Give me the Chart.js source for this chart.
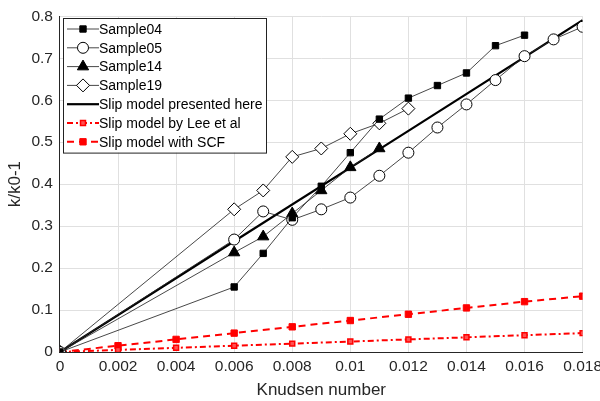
<!DOCTYPE html>
<html lang="en">
<head>
    <meta charset="UTF-8">
    <title>k/k0-1 vs Knudsen number</title>
    <script src="https://cdn.jsdelivr.net/npm/chart.js"></script>
    <style>
        html, body { margin: 0; padding: 0; background: #fff; overflow: hidden; }
        #wrap { width: 600px; height: 401px; overflow: hidden; }
    </style>
</head>
<body>
    <!-- canvas a bit wider than the window so the last x label is cut like in the original -->
    <div id="wrap"><canvas id="knChart" width="607" height="401"></canvas></div>

    <script>
        // Data
        const kn = [0, 0.006, 0.007, 0.008, 0.009, 0.010, 0.011, 0.012, 0.013, 0.014, 0.015, 0.016, 0.017, 0.018];
        const sample04 = [0, 0.155, 0.235, 0.32, 0.395, 0.475, 0.555, 0.605, 0.635, 0.665, 0.73, 0.755];
        const sample05 = [0, 0.268, 0.335, 0.315, 0.34, 0.368, 0.42, 0.475, 0.535, 0.59, 0.648, 0.705, 0.745, 0.775];
        const sample14 = [0, 0.237, 0.275, 0.33, 0.385, 0.44, 0.485];
        const sample19 = [0, 0.34, 0.385, 0.465, 0.485, 0.52, 0.545, 0.58];

        const slipKn = [0, 0.006, 0.012, 0.018];
        const slipHere = [0, 0.264, 0.527, 0.791];

        const modelKn = [0, 0.002, 0.004, 0.006, 0.008, 0.010, 0.012, 0.014, 0.016, 0.018];
        const slipLee = [0, 0.005, 0.01, 0.015, 0.02, 0.025, 0.03, 0.035, 0.04, 0.045];
        const slipSCF = [0, 0.015, 0.03, 0.045, 0.06, 0.075, 0.09, 0.105, 0.12, 0.133];

        const xTicks = [0, 0.002, 0.004, 0.006, 0.008, 0.01, 0.012, 0.014, 0.016, 0.018];
        const yTicks = [0, 0.1, 0.2, 0.3, 0.4, 0.5, 0.6, 0.7, 0.8];

        const pts = (xs, ys) => ys.map((y, i) => ({ x: xs[i], y: y }));

        const FONT = "'Liberation Sans', Arial, sans-serif";
        const sampleLine = 'rgba(40,40,40,0.85)';

        // legend drawn like the original (line + marker in a box)
        const boxLegend = {
            id: 'boxLegend',
            afterDraw(chart) {
                const ctx = chart.ctx;
                const x0 = 63, y0 = 18, w = 203, rowH = 18.8;
                const sets = chart.data.datasets;
                ctx.save();
                ctx.fillStyle = '#fff';
                ctx.fillRect(x0, y0, w, rowH * sets.length + 3);
                ctx.strokeStyle = '#222';
                ctx.lineWidth = 1;
                ctx.strokeRect(x0 + 0.5, y0 + 0.5, w, rowH * sets.length + 3);
                sets.forEach((ds, i) => {
                    const cy = y0 + 11 + i * rowH;
                    ctx.beginPath();
                    ctx.setLineDash(ds.borderDash || []);
                    ctx.strokeStyle = ds.borderColor;
                    ctx.lineWidth = ds.borderWidth;
                    ctx.moveTo(x0 + 4, cy);
                    ctx.lineTo(x0 + 36, cy);
                    ctx.stroke();
                    ctx.setLineDash([]);
                    if (ds.pointRadius > 0) {
                        ctx.fillStyle = ds.pointBackgroundColor;
                        ctx.strokeStyle = ds.pointBorderColor;
                        ctx.lineWidth = ds.pointBorderWidth;
                        Chart.helpers.drawPoint(ctx, {
                            pointStyle: ds.pointStyle,
                            radius: ds.pointRadius,
                            rotation: 0,
                            borderWidth: ds.pointBorderWidth
                        }, x0 + 20, cy);
                    }
                    ctx.fillStyle = '#000';
                    ctx.font = '14px ' + FONT;
                    ctx.textBaseline = 'middle';
                    ctx.fillText(ds.label, x0 + 36, cy + 1);
                });
                ctx.restore();
            }
        };

        new Chart(document.getElementById('knChart'), {
            type: 'scatter',
            data: {
                datasets: [
                    {
                        label: 'Sample04', data: pts(kn, sample04), showLine: true,
                        borderColor: sampleLine, borderWidth: 1,
                        pointStyle: 'rect', pointRadius: 4.5, pointBackgroundColor: '#000',
                        pointBorderColor: '#000', pointBorderWidth: 1
                    },
                    {
                        label: 'Sample05', data: pts(kn, sample05), showLine: true,
                        borderColor: sampleLine, borderWidth: 1,
                        pointStyle: 'circle', pointRadius: 5.5, pointBackgroundColor: '#fff',
                        pointBorderColor: '#000', pointBorderWidth: 1
                    },
                    {
                        label: 'Sample14', data: pts(kn, sample14), showLine: true,
                        borderColor: sampleLine, borderWidth: 1,
                        pointStyle: 'triangle', pointRadius: 6.5, pointBackgroundColor: '#000',
                        pointBorderColor: '#000', pointBorderWidth: 1
                    },
                    {
                        label: 'Sample19', data: pts(kn, sample19), showLine: true,
                        borderColor: sampleLine, borderWidth: 1,
                        pointStyle: 'rectRot', pointRadius: 6.5, pointBackgroundColor: '#fff',
                        pointBorderColor: '#000', pointBorderWidth: 1
                    },
                    {
                        label: 'Slip model presented here', data: pts(slipKn, slipHere), showLine: true,
                        borderColor: '#000', borderWidth: 2.2, pointRadius: 0,
                        pointBackgroundColor: '#000', pointBorderColor: '#000', pointBorderWidth: 0
                    },
                    {
                        label: 'Slip model by Lee et al', data: pts(modelKn, slipLee), showLine: true,
                        borderColor: '#ff0000', borderWidth: 2, borderDash: [6, 3, 2, 3],
                        pointStyle: 'rect', pointRadius: 3.5, pointBackgroundColor: '#ff5050',
                        pointBorderColor: '#ff0000', pointBorderWidth: 1.5
                    },
                    {
                        label: 'Slip model with SCF', data: pts(modelKn, slipSCF), showLine: true,
                        borderColor: '#ff0000', borderWidth: 2, borderDash: [7, 5],
                        pointStyle: 'rect', pointRadius: 4.5, pointBackgroundColor: '#ff0000',
                        pointBorderColor: '#ff0000', pointBorderWidth: 1
                    }
                ]
            },
            options: {
                responsive: false,
                animation: false,
                layout: { padding: { left: 0, right: 0, top: -1, bottom: 0 } },
                plugins: {
                    legend: { display: false },
                    tooltip: { enabled: false }
                },
                scales: {
                    x: {
                        type: 'linear', min: 0, max: 0.018,
                        afterBuildTicks: axis => { axis.ticks = xTicks.map(v => ({ value: v })); },
                        ticks: {
                            color: '#262626', font: { family: FONT, size: 15.5 }, padding: 5,
                            callback: v => String(+v.toFixed(3))
                        },
                        grid: { color: '#e0e0e0', drawTicks: false },
                        border: { color: '#262626', width: 1 },
                        title: {
                            display: true, text: 'Knudsen number', color: '#262626',
                            font: { family: FONT, size: 17 }, padding: { top: 0, bottom: 0 }
                        }
                    },
                    y: {
                        type: 'linear', min: 0, max: 0.8,
                        afterBuildTicks: axis => { axis.ticks = yTicks.map(v => ({ value: v })); },
                        ticks: {
                            color: '#262626', font: { family: FONT, size: 15.5 }, padding: 7,
                            callback: v => String(+v.toFixed(1))
                        },
                        grid: { color: '#e0e0e0', drawTicks: false },
                        border: { color: '#262626', width: 1 },
                        title: {
                            display: true, text: 'k/k0-1', color: '#262626',
                            font: { family: FONT, size: 17 }, padding: { top: 5, bottom: -1 }
                        }
                    }
                }
            },
            plugins: [boxLegend]
        });
    </script>
</body>
</html>
